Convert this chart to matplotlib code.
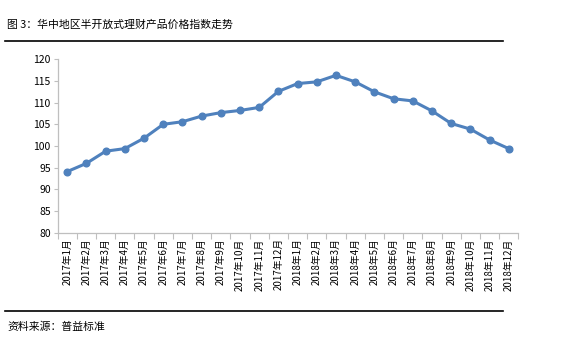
import matplotlib.pyplot as plt
from matplotlib.lines import Line2D
import numpy as np

plt.rcParams['font.family'] = ['Noto Sans CJK SC', 'DejaVu Sans']

months = ['2017年1月', '2017年2月', '2017年3月', '2017年4月', '2017年5月', '2017年6月',
          '2017年7月', '2017年8月', '2017年9月', '2017年10月', '2017年11月', '2017年12月',
          '2018年1月', '2018年2月', '2018年3月', '2018年4月', '2018年5月', '2018年6月',
          '2018年7月', '2018年8月', '2018年9月', '2018年10月', '2018年11月', '2018年12月']
index_vals = [94.1, 96.0, 98.8, 99.4, 101.8, 105.0, 105.6, 106.9, 107.7, 108.2, 108.9, 112.6,
              114.4, 114.8, 116.3, 114.8, 112.5, 110.9, 110.4, 108.1, 105.2, 103.9, 101.4, 99.4]
yticks = [80, 85, 90, 95, 100, 105, 110, 115, 120]

fig = plt.figure(figsize=(5.75, 3.41), dpi=100)
ax = fig.add_axes([0.1003, 0.3176, 0.8011, 0.5085])

x = np.arange(len(months))
ax.plot(x, index_vals, color='#4F81BD', lw=2.2, marker='o', ms=4.8, solid_capstyle='round')

ax.set_ylim(80, 120)
ax.set_yticks(yticks)
ax.set_xlim(-0.5, len(months) - 0.5)
ax.set_xticks(x)
ax.set_xticklabels(months, rotation=90, fontsize=7, va='top')
ax.set_xticks(np.arange(-0.5, len(months)), minor=True)
ax.tick_params(axis='x', which='major', length=0, pad=4)
ax.tick_params(axis='x', which='minor', length=4, color='#BFBFBF', width=0.8)
ax.tick_params(axis='y', length=3, color='#BFBFBF', width=0.8, labelsize=7.5, pad=2)

for s in ['top', 'right']:
    ax.spines[s].set_visible(False)
for s in ['left', 'bottom']:
    ax.spines[s].set_color('#BFBFBF')
    ax.spines[s].set_linewidth(0.9)

fig.text(7 / 575, 1 - 25 / 341, '图 3：华中地区半开放式理财产品价格指数走势', fontsize=7.8,
         va='center', ha='left')
fig.add_artist(Line2D([5 / 575, 503 / 575], [1 - 41 / 341, 1 - 41 / 341], color='black', lw=1.2))
fig.add_artist(Line2D([5 / 575, 503 / 575], [1 - 311 / 341, 1 - 311 / 341], color='black', lw=1.2))
fig.text(7 / 575, 1 - 327 / 341, '资料来源：普益标准', fontsize=7.8, va='center', ha='left')

fig.savefig('out.png', dpi=100)
